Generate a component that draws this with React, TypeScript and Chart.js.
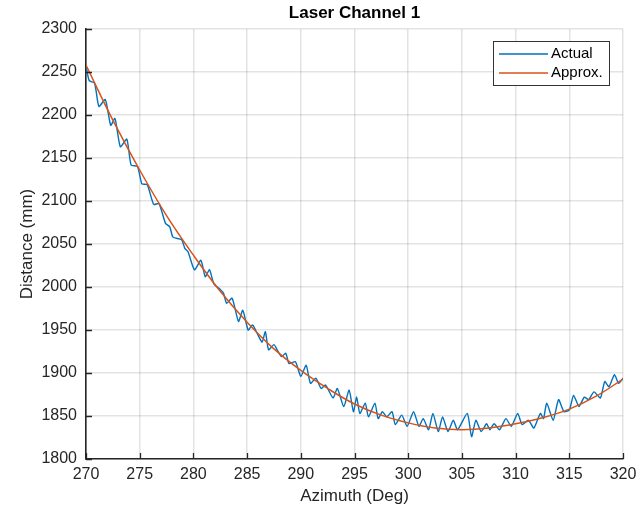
import React, { useEffect, useRef } from "react";
import { Chart, registerables } from "chart.js";

Chart.register(...registerables);

const chartTitle = "Laser Channel 1";
const xAxisTitle = "Azimuth (Deg)";
const yAxisTitle = "Distance (mm)";
const seriesNames = ["Actual", "Approx."];
const seriesColors = ["#0072BD", "#D95319"];

const xMin = 270;
const xMax = 320;
const xStep = 5;
const yMin = 1800;
const yMax = 2300;
const yStep = 50;

const actualAzimuth = [
  270.0, 270.3, 270.8, 271.2, 271.8, 272.3, 272.7, 273.2, 273.8, 274.2,
  274.8, 275.2, 275.7, 276.3, 276.8, 277.4, 277.8, 278.1, 278.9, 279.2,
  279.5, 280.1, 280.7, 281.1, 281.5, 281.9, 282.5, 282.8, 283.1, 283.6,
  284.2, 284.6, 285.1, 285.5, 286.1, 286.4, 286.7, 287.0, 287.5, 287.8,
  288.2, 288.6, 288.9, 289.5, 290.0, 290.5, 290.9, 291.4, 291.9, 292.3,
  293.0, 293.4, 294.0, 294.5, 294.9, 295.2, 295.5, 296.0, 296.3, 296.9,
  297.2, 297.6, 298.0, 298.5, 298.8, 299.4, 299.9, 300.5, 301.0, 301.4,
  301.9, 302.3, 302.8, 303.2, 303.7, 304.2, 304.6, 305.5, 305.9, 306.3,
  306.8, 307.3, 307.6, 308.0, 308.5, 309.1, 309.6, 310.2, 310.6, 311.2,
  311.7, 312.3, 312.6, 312.9, 313.5, 314.0, 314.5, 315.0, 315.4, 315.9,
  316.4, 316.8, 317.3, 317.9, 318.3, 318.7, 319.2, 319.6, 320.0,
];

const actualDistance = [
  2258, 2240, 2237, 2210, 2218, 2188, 2196, 2163, 2172, 2142,
  2140, 2120, 2119, 2096, 2097, 2074, 2070, 2058, 2055, 2045,
  2041, 2020, 2031, 2012, 2020, 2004, 1997, 1993, 1981, 1987,
  1960, 1973, 1950, 1956, 1942, 1936, 1948, 1927, 1933, 1927,
  1919, 1923, 1911, 1913, 1896, 1909, 1888, 1894, 1882, 1886,
  1871, 1882, 1861, 1880, 1855, 1872, 1853, 1865, 1849, 1865,
  1847, 1855, 1849, 1855, 1840, 1851, 1838, 1855, 1838, 1847,
  1834, 1853, 1832, 1849, 1832, 1845, 1834, 1853, 1826, 1845,
  1832, 1841, 1834, 1841, 1834, 1847, 1838, 1853, 1840, 1845,
  1836, 1853, 1847, 1865, 1845, 1869, 1855, 1857, 1874, 1861,
  1872, 1869, 1878, 1871, 1890, 1884, 1898, 1888, 1894,
];

const approxAzimuth = [
  270, 272.5, 275, 277.5, 280, 282.5, 285, 287.5, 290, 292.5, 295,
  297.5, 300, 302.5, 305, 307.5, 310, 312.5, 315, 317.5, 320,
];

const approxDistance = [
  2258, 2194, 2136, 2083, 2037, 1995, 1959, 1928, 1903, 1882, 1864,
  1851, 1842, 1836, 1834, 1836, 1841, 1848, 1858, 1873, 1893,
];

const FONT = "'Liberation Sans', Arial, Helvetica, sans-serif";
const AXIS_COLOR = "#262626";

const matlabPlugin = {
  id: "matlabDecor",
  afterDatasetsDraw(chart: any) {
    const { ctx, chartArea, scales } = chart;
    const xs = scales.x;
    const ys = scales.y;
    ctx.save();
    ctx.strokeStyle = AXIS_COLOR;
    ctx.lineWidth = 1.3;
    ctx.beginPath();
    for (let v = xMin; v <= xMax; v += xStep) {
      const px = Math.round(xs.getPixelForValue(v)) + 0.5;
      ctx.moveTo(px, chartArea.bottom);
      ctx.lineTo(px, chartArea.bottom - 6);
    }
    for (let v = yMin; v <= yMax; v += yStep) {
      const py = Math.round(ys.getPixelForValue(v)) + 0.5;
      ctx.moveTo(chartArea.left, py);
      ctx.lineTo(chartArea.left + 6, py);
    }
    ctx.stroke();
    ctx.restore();
  },
  afterDraw(chart: any) {
    const { ctx, chartArea } = chart;
    ctx.save();
    ctx.fillStyle = "#000";
    ctx.font = `bold 17px ${FONT}`;
    ctx.textAlign = "center";
    ctx.textBaseline = "middle";
    ctx.fillText(chartTitle, (chartArea.left + chartArea.right) / 2, 13);

    const bx = chartArea.right - 130;
    const by = chartArea.top + 12;
    const bw = 116;
    const bh = 44;
    ctx.fillStyle = "#fff";
    ctx.fillRect(bx, by, bw, bh);
    ctx.strokeStyle = "#333";
    ctx.lineWidth = 1;
    ctx.strokeRect(bx + 0.5, by + 0.5, bw, bh);
    ctx.font = `15px ${FONT}`;
    ctx.textAlign = "left";
    ctx.textBaseline = "middle";
    chart.data.datasets.forEach((ds: any, i: number) => {
      const ly = by + 13 + i * 19;
      ctx.strokeStyle = ds.borderColor;
      ctx.lineWidth = 1.3;
      ctx.beginPath();
      ctx.moveTo(bx + 6, ly);
      ctx.lineTo(bx + 55, ly);
      ctx.stroke();
      ctx.fillStyle = "#000";
      ctx.fillText(ds.label, bx + 58, ly);
    });
    ctx.restore();
  },
};

export default function App() {
  const canvasRef = useRef<HTMLCanvasElement | null>(null);

  useEffect(() => {
    const canvas = canvasRef.current;
    if (!canvas) return;
    const actualData = actualAzimuth.map((x, i) => ({ x, y: actualDistance[i] }));
    const approxData = approxAzimuth.map((x, i) => ({ x, y: approxDistance[i] }));

    const chart = new Chart(canvas, {
      type: "line",
      data: {
        datasets: [
          {
            label: seriesNames[0],
            data: actualData,
            borderColor: seriesColors[0],
            backgroundColor: seriesColors[0],
            borderWidth: 1.4,
            pointRadius: 0,
            tension: 0.2,
            order: 1,
          },
          {
            label: seriesNames[1],
            data: approxData,
            borderColor: seriesColors[1],
            backgroundColor: seriesColors[1],
            borderWidth: 1.5,
            pointRadius: 0,
            tension: 0.4,
            order: 0,
          },
        ],
      },
      plugins: [matlabPlugin],
      options: {
        responsive: false,
        animation: false,
        layout: { padding: { top: 29, right: 13, left: 0, bottom: 0 } },
        plugins: {
          legend: { display: false },
          title: { display: false },
          tooltip: { enabled: false },
        },
        scales: {
          x: {
            type: "linear",
            min: xMin,
            max: xMax,
            afterFit: (s: any) => {
              s.height = 54;
              s.paddingRight = 0;
              s.paddingLeft = 0;
            },
            ticks: {
              stepSize: xStep,
              color: AXIS_COLOR,
              font: { family: FONT, size: 16 },
              padding: 6,
              maxRotation: 0,
              callback: (v: any) => String(v),
            },
            grid: {
              color: "rgba(0,0,0,0.11)",
              lineWidth: 1.5,
              drawTicks: false,
            },
            border: { display: true, color: AXIS_COLOR, width: 1.6 },
            title: {
              display: true,
              text: xAxisTitle,
              color: AXIS_COLOR,
              font: { family: FONT, size: 17 },
              padding: { top: 0, bottom: 6 },
            },
          },
          y: {
            type: "linear",
            min: yMin,
            max: yMax,
            afterFit: (s: any) => {
              s.width = 86;
              s.paddingTop = 0;
              s.paddingBottom = 0;
            },
            ticks: {
              stepSize: yStep,
              color: AXIS_COLOR,
              font: { family: FONT, size: 16 },
              padding: 9,
              callback: (v: any) => String(v),
            },
            grid: {
              color: "rgba(0,0,0,0.11)",
              lineWidth: 1.5,
              drawTicks: false,
            },
            border: { display: true, color: AXIS_COLOR, width: 1.6 },
            title: {
              display: true,
              text: yAxisTitle,
              color: AXIS_COLOR,
              font: { family: FONT, size: 17 },
              padding: { top: 17, bottom: 0 },
            },
          },
        },
      },
    } as any);

    return () => chart.destroy();
  }, []);

  return (
    <div
      style={{
        position: "fixed",
        left: 0,
        top: 0,
        width: 636,
        height: 513,
        background: "#fff",
      }}
    >
      <canvas ref={canvasRef} width={636} height={513} />
    </div>
  );
}
